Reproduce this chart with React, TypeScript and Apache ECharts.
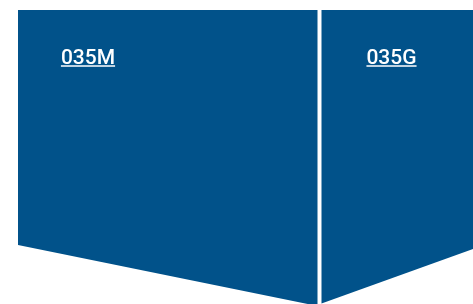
import React, { useEffect, useRef } from "react";
import * as echarts from "echarts";

// Region names and polygon outlines (map-like coordinates, y downwards)
const regionNames = ["035M", "035G"];
const regionXs = [
  [18, 317.5, 317.5, 18],
  [321.5, 473, 473, 321.5],
];
const regionYs = [
  [10, 10, 306, 245],
  [10, 10, 249, 303.5],
];

const COLOR = "#01528a";
const FONT = "Roboto, 'Noto Sans', sans-serif";
const FONT_SIZE = 21;
const FONT_WEIGHT = 500;

function textWidth(t: string): number {
  const c = document.createElement("canvas").getContext("2d");
  if (!c) return t.length * 12;
  c.font = `${FONT_WEIGHT} ${FONT_SIZE}px Roboto`;
  return c.measureText(t).width;
}

export default function App() {
  const ref = useRef<HTMLDivElement>(null);
  useEffect(() => {
    if (!ref.current) return;
    const chart = echarts.init(ref.current, undefined, { renderer: "svg" });
    const data = regionNames.map((name, i) => ({
      name,
      value: [i],
    }));
    chart.setOption({
      animation: false,
      grid: { left: 0, right: 0, top: 0, bottom: 0 },
      xAxis: { type: "value", min: 0, max: 473, show: false },
      yAxis: { type: "value", min: 0, max: 304, inverse: true, show: false },
      series: [
        {
          type: "custom",
          clip: true,
          data,
          renderItem: (params: any, api: any) => {
            const i = params.dataIndex;
            const pts = regionXs[i].map((x, k) => api.coord([x, regionYs[i][k]]));
            const minX = Math.min(...pts.map((p: number[]) => p[0]));
            const minY = Math.min(...pts.map((p: number[]) => p[1]));
            const name = regionNames[i];
            const cx = minX + 70;
            const cy = minY + 46.5;
            const w = textWidth(name);
            return {
              type: "group",
              children: [
                {
                  type: "polygon",
                  shape: { points: pts },
                  style: { fill: COLOR, stroke: null },
                },
                {
                  type: "text",
                  x: cx,
                  y: cy,
                  style: {
                    text: name,
                    fill: "#ffffff",
                    font: `${FONT_WEIGHT} ${FONT_SIZE}px ${FONT}`,
                    align: "center",
                    verticalAlign: "middle",
                  },
                },
                {
                  type: "line",
                  shape: { x1: cx - w / 2, y1: cy + 9.5, x2: cx + w / 2, y2: cy + 9.5 },
                  style: { stroke: "#ffffff", lineWidth: 1.5 },
                },
              ],
            };
          },
        },
      ],
    });
    return () => chart.dispose();
  }, []);
  return (
    <div
      ref={ref}
      style={{ position: "fixed", left: 0, top: 0, width: 473, height: 304 }}
    />
  );
}
